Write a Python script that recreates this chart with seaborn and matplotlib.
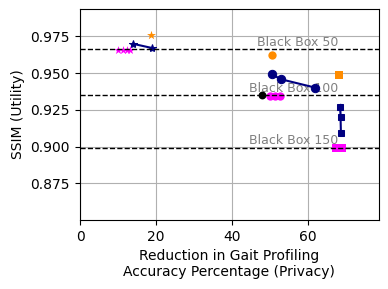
import numpy as np
import pandas as pd
import seaborn as sns
import matplotlib
matplotlib.use("Agg")
import matplotlib.pyplot as plt

# 読み取った値
# ブラックボックスの基準線
bb_labels = ["Black Box 50", "Black Box 100", "Black Box 150"]
bb_ssim = [0.9662, 0.9349, 0.8992]
bb_text_x = [46.5, 44.4, 44.4]

# navyの線 (星、丸、四角)
navy_star_x = [13.9, 18.8]
navy_star_y = [0.9700, 0.9672]
navy_circle_x = [50.4, 50.4, 52.8, 61.8]
navy_circle_y = [0.9502, 0.9485, 0.9459, 0.9402]
navy_square_x = [68.4, 68.4, 68.4, 68.5, 68.5, 68.6]
navy_square_y = [0.9295, 0.9270, 0.9245, 0.9215, 0.9190, 0.9092]

# orangeの点
orange_x = [18.6, 50.5, 68.1]
orange_y = [0.9762, 0.9625, 0.9488]
orange_marker = ["*", "o", "s"]

# magentaの点
magenta_star_x = [10.0, 11.3, 12.2, 13.2]
magenta_star_y = [0.9655, 0.9655, 0.9655, 0.9655]
magenta_circle_x = [49.9, 51.2, 52.5]
magenta_circle_y = [0.9347, 0.9347, 0.9347]
magenta_square_x = [67.2, 68.0, 68.9]
magenta_square_y = [0.8990, 0.8990, 0.8990]

# 黒の点
black_x = [47.9]
black_y = [0.9349]

fig = plt.figure(figsize=(3.88, 2.89), dpi=100)
ax = fig.add_subplot(1, 1, 1)
fig.subplots_adjust(left=0.205, right=0.9776, top=0.968, bottom=0.239)

ax.grid(True, color="#b0b0b0", linewidth=0.8, zorder=0)
ax.set_axisbelow(True)

# navyの線
sns.lineplot(x=navy_star_x, y=navy_star_y, color="navy", marker="*", markersize=6,
             markeredgecolor="navy", linewidth=1.5, sort=False, ax=ax, zorder=3)
sns.lineplot(x=navy_circle_x, y=navy_circle_y, color="navy", marker="o", markersize=6,
             markeredgecolor="navy", linewidth=1.5, sort=False, ax=ax, zorder=3)
sns.lineplot(x=navy_square_x, y=navy_square_y, color="navy", marker="s", markersize=5,
             markeredgecolor="navy", linewidth=1.5, sort=False, ax=ax, zorder=3)

# orange
for x, y, m in zip(orange_x, orange_y, orange_marker):
    sns.scatterplot(x=[x], y=[y], color="darkorange", marker=m, s=36 if m != "*" else 45,
                    linewidth=0, ax=ax, zorder=3)

# magenta
sns.scatterplot(x=magenta_star_x, y=magenta_star_y, color="magenta", marker="*", s=40,
                linewidth=0, ax=ax, zorder=3)
sns.scatterplot(x=magenta_circle_x, y=magenta_circle_y, color="magenta", marker="o", s=36,
                linewidth=0, ax=ax, zorder=3)
sns.scatterplot(x=magenta_square_x, y=magenta_square_y, color="magenta", marker="s", s=32,
                linewidth=0, ax=ax, zorder=3)

# 黒
sns.scatterplot(x=black_x, y=black_y, color="black", marker="o", s=32, linewidth=0,
                ax=ax, zorder=3)

# 基準線とラベル
for lab, yv, tx in zip(bb_labels, bb_ssim, bb_text_x):
    ax.axhline(yv, color="black", linestyle="--", linewidth=1, zorder=4)
    ax.text(tx, yv + 0.0006, lab, color="gray", fontsize=9, ha="left", va="bottom", zorder=2)

ax.set_xlim(-0.16, 78.7)
ax.set_ylim(0.8502, 0.9935)
ax.set_xticks([0, 20, 40, 60])
ax.set_yticks([0.875, 0.900, 0.925, 0.950, 0.975])

ax.set_xlabel("Reduction in Gait Profiling\nAccuracy Percentage (Privacy)")
ax.set_ylabel("SSIM (Utility)")

plt.savefig("out.png", dpi=100)
plt.close()
